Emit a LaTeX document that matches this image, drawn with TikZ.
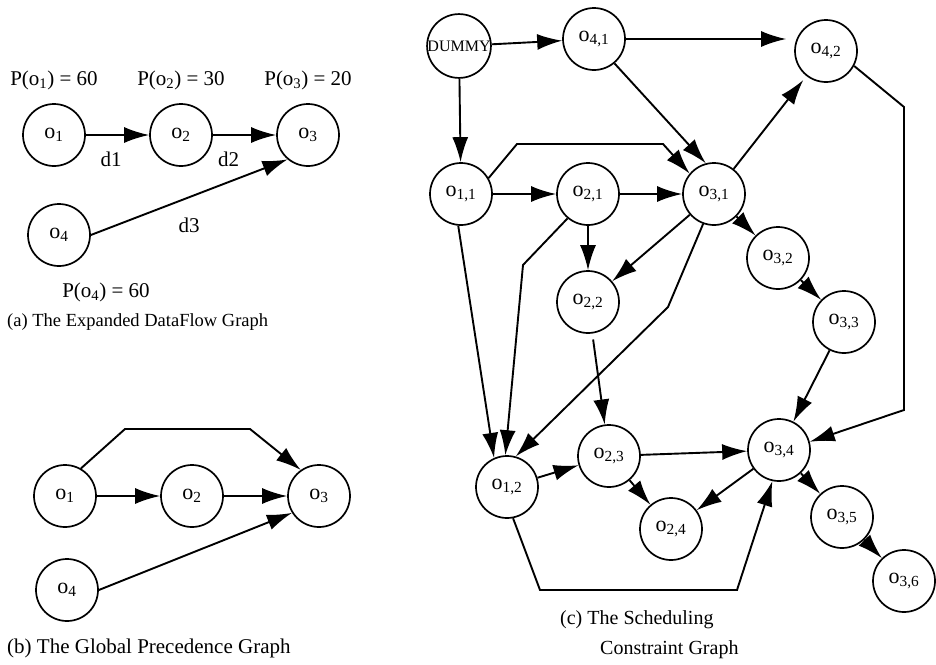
\documentclass[tikz,border=0pt]{standalone}
\usepackage{fontspec}
\setmainfont{Liberation Serif}
\usetikzlibrary{positioning}
\usetikzlibrary{shapes,arrows,arrows.meta}

\tikzset{
  op/.style={draw, circle, line width=1.7pt, minimum size=62pt, inner sep=0pt,
    font=\fontsize{22}{26}\selectfont},
  flow/.style={-{Latex[length=25pt,width=16pt]}, line width=1.9pt},
  lbl/.style={font=\fontsize{21}{25}\selectfont},
  capt/.style={font=\fontsize{20}{30}\selectfont, inner sep=0pt, align=left}
}

\begin{document}
\begin{tikzpicture}[x=1pt, y=-1pt, node distance=127pt]
  \useasboundingbox (0,0) rectangle (936,664);

  % (a) expanded dataflow graph
  \node[op] (a1) at (54,135) {o\textsubscript{1}};
  \node[op] (a2) [right of=a1] {o\textsubscript{2}};
  \node[op] (a3) [right of=a2] {o\textsubscript{3}};
  \node[op] (a4) at (59,235) {o\textsubscript{4}};
  \node[lbl] (pa1) [above=10pt of a1] {P(o\textsubscript{1}) = 60};
  \node[lbl] (pa2) [above=10pt of a2] {P(o\textsubscript{2}) = 30};
  \node[lbl] (pa3) [above=10pt of a3] {P(o\textsubscript{3}) = 20};
  \node[lbl] (pa4) at (106,292) {P(o\textsubscript{4}) = 60};
  \draw[flow] (a1) -- node[lbl, below=13pt, pos=0.4] {d1} (a2);
  \draw[flow] (a2) -- node[lbl, below=13pt, pos=0.25] {d2} (a3);
  \draw[flow] (a4.east) -- node[lbl, below=16pt] {d3} (a3.230);
  \node[capt, anchor=west, font=\fontsize{18.5}{22}\selectfont] (capa) at (7,322)
    {(a) The Expanded DataFlow Graph};

  % (b) global precedence graph
  \node[op] (b1) at (65,496) {o\textsubscript{1}};
  \node[op] (b2) [right of=b1] {o\textsubscript{2}};
  \node[op] (b3) [right of=b2] {o\textsubscript{3}};
  \node[op] (b4) at (67,590) {o\textsubscript{4}};
  \draw[flow] (b1) -- (b2);
  \draw[flow] (b2) -- (b3);
  \draw[flow] (b1.60) -- (125,429) -- (250,429) -- (b3.125);
  \draw[flow] (b4.east) -- (b3.212);
  \node[capt, anchor=west, font=\fontsize{21}{25}\selectfont] (capb) at (7,648)
    {(b) The Global Precedence Graph};

  % (c) scheduling constraint graph
  \node[op, font=\fontsize{16}{18}\selectfont] (dm) at (459,46) {DUMMY};
  \node[op] (o41) at (594,39) {o\textsubscript{4,1}};
  \node[op] (o42) at (826,51) {o\textsubscript{4,2}};
  \node[op] (o11) at (461,194) {o\textsubscript{1,1}};
  \node[op] (o21) at (588,194) {o\textsubscript{2,1}};
  \node[op] (o31) at (714,194) {o\textsubscript{3,1}};
  \node[op] (o22) at (588,302) {o\textsubscript{2,2}};
  \node[op] (o32) at (778,258) {o\textsubscript{3,2}};
  \node[op] (o33) at (844,322) {o\textsubscript{3,3}};
  \node[op] (o12) at (507,487) {o\textsubscript{1,2}};
  \node[op] (o23) at (609,456) {o\textsubscript{2,3}};
  \node[op] (o24) at (671,529) {o\textsubscript{2,4}};
  \node[op] (o34) at (779,450) {o\textsubscript{3,4}};
  \node[op] (o35) at (842,517) {o\textsubscript{3,5}};
  \node[op] (o36) at (904,581) {o\textsubscript{3,6}};

  \draw[flow] (dm) -- (o41);
  \draw[flow] (dm) -- (o11);
  \draw[flow, shorten >=8pt] (o41.east) -- (o41.east -| o42.west);
  \draw[flow] (o41.-50) -- (o31.105);
  \draw[flow] (o11.30) -- (517,144) -- (663,144) -- (o31.140);
  \draw[flow] (o11) -- (o21);
  \draw[flow] (o21) -- (o31);
  \draw[flow, shorten >=5pt] (o31) -- (o42);
  \draw[flow] (o31) -- (o32);
  \draw[flow] (o32) -- (o33);
  \draw[flow] (o33) -- (o34);
  \draw[flow] (o42.-28) -- (904,107) -- (904,410) -- (o34.15);
  \draw[flow] (o31) -- (o22);
  \draw[flow] (o21) -- (o22);
  \draw[flow] (o21.-130) -- (523,265) -- (o12.93);
  \draw[flow] (o11.-95) -- (o12.114);
  \draw[flow] (o31.-110) -- (668,307) -- (o12.74);
  \draw[flow, shorten <=6pt] (o22) -- (o23);
  \draw[flow] (o12) -- (o23);
  \draw[flow] (o23) -- (o24);
  \draw[flow] (o23) -- (o34);
  \draw[flow] (o34) -- (o24);
  \draw[flow] (o12.-79) -- (540,590) -- (737,590) -- (o34.-102);
  \draw[flow] (o34) -- (o35);
  \draw[flow] (o35) -- (o36);
  \node[capt, anchor=north west] (capc) at (560,610)
    {(c) The Scheduling\\\hspace*{40pt}Constraint Graph};
\end{tikzpicture}
\end{document}
